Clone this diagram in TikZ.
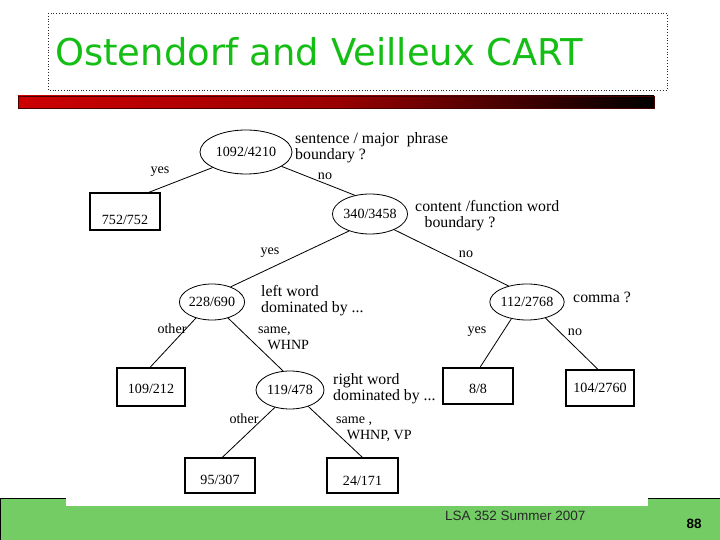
\documentclass[tikz,border=0pt]{standalone}
\usepackage{fontspec}
\setmainfont{Liberation Serif}
\newfontfamily\titlefont{DejaVu Sans}
\newfontfamily\footfont{Liberation Sans}
\usetikzlibrary{shapes.geometric, positioning}
\definecolor{mygreen}{RGB}{20,190,20}
\definecolor{myfoot}{RGB}{115,205,100}
\definecolor{myred}{RGB}{205,0,0}
\definecolor{mydark}{RGB}{70,0,0}
\definecolor{mygray}{RGB}{40,40,40}
\tikzset{
  splitnode/.style={ellipse, draw, inner sep=0pt, line width=0.7pt,
    font=\fontsize{12}{14}\selectfont},
  leafbox/.style={rectangle, draw, inner sep=0pt, line width=0.9pt,
    font=\fontsize{12}{14}\selectfont},
  lowtext/.style={text height=#1},
  qtext/.style={anchor=west, align=left, inner sep=0pt,
    font=\fontsize{13.5}{13.6}\selectfont},
  elabel/.style={inner sep=0pt, align=left, font=\fontsize{12}{13.6}\selectfont},
  branch/.style={line width=0.7pt}
}

\begin{document}
\begin{tikzpicture}[x=0.03cm, y=-0.03cm]
  \useasboundingbox (0,0) rectangle (720,540);
  \fill[white] (0,0) rectangle (720,540);

  % Title box and bar
  \draw[dotted, thin, mygray] (48,13) rectangle (667,90);
  \node[anchor=west, inner sep=0pt, text=mygreen, font=\titlefont\fontsize{31.5}{34}\selectfont]
    (title) at (55,52) {Ostendorf and Veilleux CART};
  \shade[left color=myred, right color=black, middle color=myred!75!black]
    (18,96) rectangle (654,108);
  \draw[mydark, line width=0.6pt] (18,96) rectangle (654,108);

  % Footer band
  \fill[myfoot] (0,498) rectangle (720,540);
  \fill[white] (66,490) rectangle (648,506);
  \draw[line width=0.8pt] (0,540) -- (0,498) -- (66,498);
  \draw[line width=0.8pt] (648,498) -- (720,498);
  \node[anchor=west, inner sep=0pt, text=mygray, font=\footfont\fontsize{11.5}{12}\selectfont]
    (foot) at (445,516) {LSA 352 Summer 2007};
  \node[inner sep=0pt, text=black, font=\footfont\bfseries\fontsize{11.5}{12}\selectfont]
    (page) at (694,524) {88};

  % Split nodes
  \node[splitnode, minimum width=2.76cm, minimum height=1.32cm] (n1092) at (246,152) {1092/4210};
  \node[splitnode, minimum width=2.04cm, minimum height=1.2cm] (n340) at (370,214) {340/3458};
  \node[splitnode, minimum width=1.8cm, minimum height=1.08cm] (n228) at (212,302) {228/690};
  \node[splitnode, minimum width=2.1cm, minimum height=1.08cm] (n112) at (527,302) {112/2768};
  \node[splitnode, minimum width=2.04cm, minimum height=1.14cm] (n119) at (290,390) {119/478};

  % Questions
  \node[qtext] (q1092) at (295,148) {sentence / major\ \ phrase\\boundary ?};
  \node[qtext] (q340) at (415,216) {content /function word\\\hspace*{8pt}boundary ?};
  \node[qtext] (q228) at (261,301) {left word\\dominated by ...};
  \node[qtext] (q112) at (573,297) {comma ?};
  \node[qtext] (q119) at (333,389) {right word\\dominated by ...};

  % Leaves
  \node[leafbox, minimum width=2.1cm, minimum height=1.11cm, lowtext=22pt] (l752) at (125,211.5) {752/752};
  \node[leafbox, minimum width=2.04cm, minimum height=1.14cm, lowtext=11.5pt] (l109) at (151,387) {109/212};
  \node[leafbox, minimum width=2.1cm, minimum height=1.08cm, lowtext=13pt] (l8) at (478,386) {8/8};
  \node[leafbox, minimum width=2.04cm, minimum height=1.08cm] (l104) at (600,388) {104/2760};
  \node[leafbox, minimum width=2.1cm, minimum height=1.05cm, lowtext=16pt] (l95) at (220,475.5) {95/307};
  \node[leafbox, minimum width=2.13cm, minimum height=1.05cm, lowtext=17.5pt] (l24) at (362.5,475.5) {24/171};

  % Branches
  \draw[branch] (n1092.205) -- (l752.39);
  \draw[branch] (n1092.338) -- (n340.129);
  \draw[branch] (n340.219) -- (n228.39);
  \draw[branch] (n340.327) -- (n112.139);
  \draw[branch] (n112.227) -- (l8.84);
  \draw[branch] (n112.319) -- (l104.96);
  \draw[branch] (n228.225) -- (l109.93);
  \draw[branch] (n228.315) -- (n119.110);
  \draw[branch] (n119.229) -- (l95.83);
  \draw[branch] (n119.318) -- (l24.90);

  % Branch labels
  \node[elabel] (e1) at (160,172) {yes};
  \node[elabel] (e2) at (325,176) {no};
  \node[elabel] (e3) at (270,253) {yes};
  \node[elabel] (e4) at (466,254) {no};
  \node[elabel] (e5) at (477,332) {yes};
  \node[elabel] (e6) at (575,332) {no};
  \node[elabel] (e7) at (172,329) {other};
  \node[elabel, anchor=west] (e8) at (258,338) {same,\\\hspace*{8pt}WHNP};
  \node[elabel] (e9) at (244,419) {other};
  \node[elabel, anchor=west] (e10) at (336,429) {same ,\\\hspace*{9pt}WHNP, VP};
\end{tikzpicture}
\end{document}
